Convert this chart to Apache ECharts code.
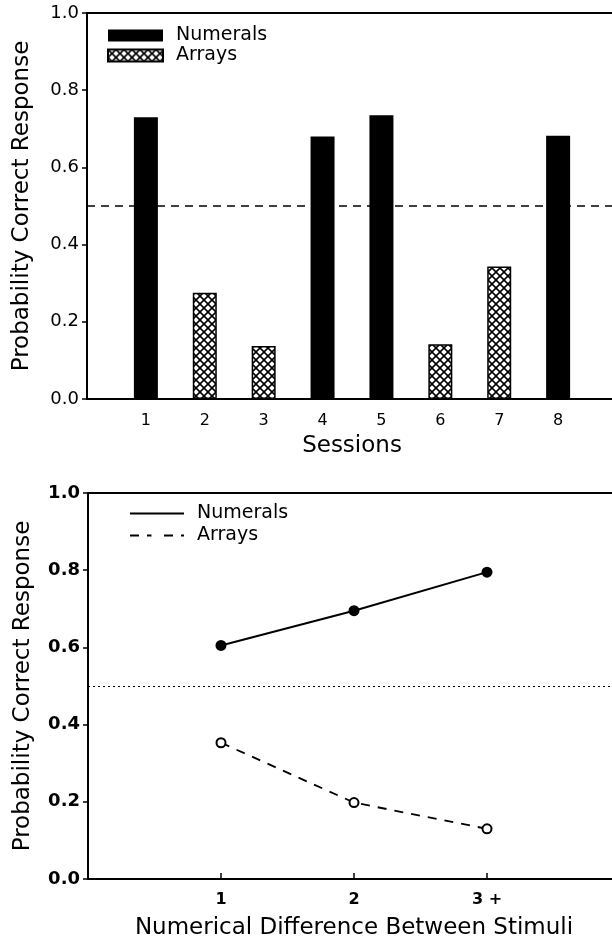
<!DOCTYPE html>
<html>
<head>
<meta charset="utf-8">
<script src="https://cdn.jsdelivr.net/npm/echarts@6/dist/echarts.min.js"></script>
<style>
html, body { margin: 0; padding: 0; background: #fff; }
#chart { width: 612px; height: 940px; }
</style>
</head>
<body>
<div id="chart"></div>
<script>
// top panel: sessions
const sessions = [1, 2, 3, 4, 5, 6, 7, 8]
const sessionLabels = ['1', '2', '3', '4', '5', '6', '7', '8']
const numeralsBySession = [0.73, null, null, 0.68, 0.735, null, null, 0.682]
const arraysBySession = [null, 0.275, 0.137, null, null, 0.142, 0.343, null]
const chanceLevel = 0.5

// bottom panel: numerical difference
const differences = [1, 2, 3]
const differenceLabels = ['1', '2', '3 +']
const numeralsByDifference = [0.605, 0.695, 0.795]
const arraysByDifference = [0.353, 0.198, 0.13]

const font = 'DejaVu Sans'

// cross-hatch fill for the Arrays bars
const hatch = document.createElement('canvas')
hatch.width = 8
hatch.height = 8
const ctx = hatch.getContext('2d')
ctx.fillStyle = '#fff'
ctx.fillRect(0, 0, 8, 8)
ctx.strokeStyle = '#000'
ctx.lineWidth = 1.6
ctx.beginPath()
ctx.moveTo(-1, -1); ctx.lineTo(9, 9)
ctx.moveTo(9, -1); ctx.lineTo(-1, 9)
ctx.stroke()

const pairs = (xs, ys) => xs.map((x, i) => [x, ys[i]]).filter((p) => p[1] != null)

const axisLine = { lineStyle: { color: '#000', width: 2 } }
const nameStyle = { fontFamily: font, fontSize: 23, color: '#000' }

const yAxisBase = (gridIndex, bold) => ({
  gridIndex,
  type: 'value',
  min: 0,
  max: 1,
  interval: 0.2,
  axisLine: { show: true, ...axisLine },
  axisTick: { show: true, length: 5, lineStyle: { color: '#000', width: 1.5 } },
  splitLine: { show: false },
  axisLabel: {
    formatter: (v) => v.toFixed(1),
    fontFamily: font,
    fontSize: 18,
    fontWeight: bold ? 'bold' : 'normal',
    color: '#000',
    margin: 8
  },
  name: 'Probability Correct Response',
  nameLocation: 'middle',
  nameGap: 53,
  nameTextStyle: nameStyle
})

const seriesName = {
  'bar-Numerals': 'Numerals',
  'bar-Arrays': 'Arrays',
  'line-Numerals': 'Numerals',
  'line-Arrays': 'Arrays'
}

const option = {
  animation: false,
  backgroundColor: '#fff',
  grid: [
    { left: 87, top: 13, width: 530, height: 386, outerBoundsMode: 'none', show: true, borderColor: '#000', borderWidth: 2 },
    { left: 88, top: 493, width: 532, height: 386, outerBoundsMode: 'none', show: true, borderColor: '#000', borderWidth: 2 }
  ],
  legend: [
    {
      data: ['bar-Numerals', 'bar-Arrays'],
      formatter: (n) => seriesName[n],
      orient: 'vertical',
      left: 102,
      top: 21,
      icon: 'rect',
      itemWidth: 55,
      itemHeight: 12,
      itemGap: 1,
      selectedMode: false,
      textStyle: { fontFamily: font, fontSize: 19, color: '#000', padding: [0, 0, 0, 8] }
    },
    {
      data: ['line-Numerals', 'line-Arrays'],
      formatter: (n) => seriesName[n],
      orient: 'vertical',
      left: 124,
      top: 499,
      itemWidth: 54,
      itemHeight: 14,
      itemGap: 3,
      selectedMode: false,
      itemStyle: { color: 'rgba(0,0,0,0)', borderColor: 'rgba(0,0,0,0)', borderWidth: 0 },
      textStyle: { fontFamily: font, fontSize: 19, color: '#000', padding: [0, 0, 0, 8] }
    }
  ],
  xAxis: [
    {
      gridIndex: 0,
      type: 'value',
      min: 0,
      max: 9,
      interval: 1,
      axisLine: { show: true, ...axisLine },
      axisTick: { show: false },
      splitLine: { show: false },
      axisLabel: {
        formatter: (v) => (sessions.includes(v) ? sessionLabels[sessions.indexOf(v)] : ''),
        fontFamily: font,
        fontSize: 16,
        color: '#000',
        margin: 14
      },
      name: 'Sessions',
      nameLocation: 'middle',
      nameGap: 36,
      nameTextStyle: nameStyle
    },
    {
      gridIndex: 1,
      type: 'value',
      min: 0,
      max: 4,
      interval: 1,
      axisLine: { show: true, ...axisLine },
      axisTick: { show: true, inside: true, length: 6, lineStyle: { color: '#000', width: 1.5 } },
      splitLine: { show: false },
      axisLabel: {
        formatter: (v) => (differences.includes(v) ? differenceLabels[differences.indexOf(v)] : ''),
        fontFamily: font,
        fontSize: 16,
        fontWeight: 'bold',
        color: '#000',
        margin: 13
      },
      name: 'Numerical Difference Between Stimuli',
      nameLocation: 'middle',
      nameGap: 38,
      nameTextStyle: nameStyle
    }
  ],
  yAxis: [yAxisBase(0, false), yAxisBase(1, true)],
  series: [
    {
      name: 'bar-Numerals',
      type: 'bar',
      xAxisIndex: 0,
      yAxisIndex: 0,
      data: pairs(sessions, numeralsBySession),
      barWidth: 24,
      barGap: '-100%',
      itemStyle: { color: '#000' },
      markLine: {
        silent: true,
        symbol: 'none',
        label: { show: false },
        lineStyle: { color: '#000', width: 1.5, type: [8, 6] },
        data: [{ yAxis: chanceLevel }]
      }
    },
    {
      name: 'bar-Arrays',
      type: 'bar',
      xAxisIndex: 0,
      yAxisIndex: 0,
      data: pairs(sessions, arraysBySession),
      barWidth: 24,
      barGap: '-100%',
      itemStyle: { color: { image: hatch, repeat: 'repeat' }, borderColor: '#000', borderWidth: 1.5 }
    },
    {
      name: 'line-Numerals',
      type: 'line',
      xAxisIndex: 1,
      yAxisIndex: 1,
      data: pairs(differences, numeralsByDifference),
      symbol: 'circle',
      symbolSize: 11,
      itemStyle: { color: '#000' },
      lineStyle: { color: '#000', width: 2 },
      markLine: {
        silent: true,
        symbol: 'none',
        label: { show: false },
        lineStyle: { color: '#000', width: 1.2, type: [2, 3] },
        data: [{ yAxis: chanceLevel }]
      }
    },
    {
      name: 'line-Arrays',
      type: 'line',
      xAxisIndex: 1,
      yAxisIndex: 1,
      data: pairs(differences, arraysByDifference),
      symbol: 'emptyCircle',
      symbolSize: 9,
      itemStyle: { color: '#000', borderColor: '#000', borderWidth: 1.5 },
      lineStyle: { color: '#000', width: 1.8, type: [9, 8] }
    }
  ]
}

const chart = echarts.init(document.getElementById('chart'))
chart.setOption(option)
</script>
</body>
</html>
